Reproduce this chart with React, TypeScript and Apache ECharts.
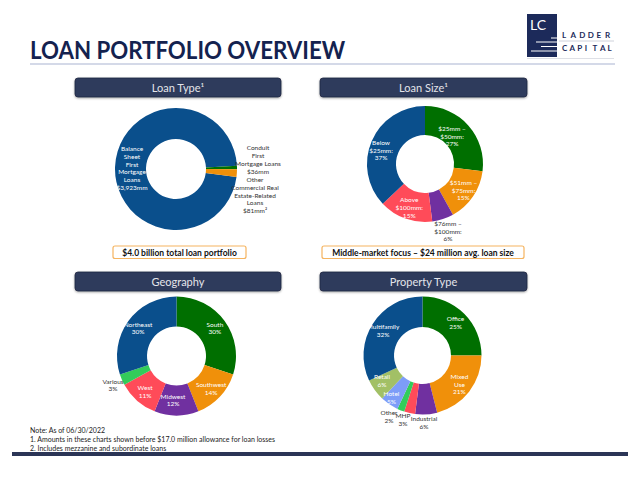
import React, { useEffect, useRef } from "react";
import * as echarts from "echarts";

// ---------- DATA ----------
const LOAN_TYPE_NAMES = [
  "Balance\nSheet\nFirst\nMortgage\nLoans",
  "Conduit\nFirst\nMortgage Loans",
  "Other\nCommercial Real\nEstate-Related\nLoans",
];
const LOAN_TYPE_VALUES = [3923, 36, 81]; // $mm
const LOAN_TYPE_MARKS = ["", "", "²"];

const LOAN_SIZE_NAMES = [
  "$25mm –\n$50mm:",
  "$51mm –\n$75mm:",
  "$76mm –\n$100mm:",
  "Above\n$100mm:",
  "Below\n$25mm:",
];
const LOAN_SIZE_VALUES = [27, 15, 6, 15, 37]; // %

const GEO_NAMES = ["South", "Southwest", "Midwest", "West", "Various", "Northeast"];
const GEO_VALUES = [30, 14, 12, 11, 3, 30]; // %

const PROP_NAMES = ["Office", "Mixed\nUse", "Industrial", "MHP", "Other", "Hotel", "Retail", "Multifamily"];
const PROP_VALUES = [25, 21, 6, 3, 2, 5, 6, 32]; // %

const PANEL_TITLES = ["Loan Type¹", "Loan Size¹", "Geography", "Property Type"];
const CALLOUTS = ["$4.0 billion total loan portfolio", "Middle-market focus – $24 million avg. loan size"];
const NOTES = [
  "Note: As of 06/30/2022",
  "1. Amounts in these charts shown before $17.0 million allowance for loan losses",
  "2. Includes mezzanine and subordinate loans",
];
const LOGO_WORDS = ["LADDER", "CAPITAL"];

// ---------- STYLE ----------
const BLUE = "#0a4f8c";
const GREEN = "#006f00";
const ORANGE = "#f0900a";
const PURPLE = "#7030a0";
const RED = "#ff4b59";
const BRIGHT_GREEN = "#33cc5a";
const LIGHT_BLUE = "#7d9df8";
const LIGHT_GREEN = "#a2c066";
const W = "#ffffff";
const D = "#333333";
const NAVY = "#14224f";
const HEADER = "#2e3a5c";
const FONT = "Lato";

function pieSeries(
  center: number[],
  radius: number[],
  startAngle: number,
  names: string[],
  values: number[],
  colors: string[],
  textColors: string[],
  offsets: Record<number, number[]>,
  fmt: (i: number) => string
) {
  return {
    type: "pie",
    center,
    radius,
    startAngle,
    clockwise: true,
    avoidLabelOverlap: false,
    silent: true,
    emphasis: { disabled: true },
    label: {
      show: true,
      position: "inside",
      fontFamily: FONT,
      fontSize: 6.5,
      lineHeight: 7.8,
      formatter: (p: any) => fmt(p.dataIndex),
    },
    labelLine: { show: false },
    labelLayout: (p: any) => {
      const o = offsets[p.dataIndex];
      if (!o) return {};
      return { x: center[0] + o[0], y: center[1] + o[1], align: "center", verticalAlign: "middle" };
    },
    itemStyle: { borderWidth: 0 },
    data: names.map((n, i) => ({
      name: n,
      value: values[i],
      itemStyle: { color: colors[i] },
      label: { color: textColors[i] },
    })),
  };
}

function headerBox(x: number, y: number, w: number, text: string) {
  return {
    type: "group",
    children: [
      {
        type: "rect",
        shape: { x, y, width: w, height: 19, r: 3 },
        style: {
          fill: HEADER,
          stroke: "#1f2842",
          lineWidth: 0.8,
          shadowBlur: 2,
          shadowOffsetY: 1,
          shadowColor: "rgba(0,0,0,0.35)",
        },
      },
      {
        type: "text",
        x: x + w / 2,
        y: y + 9.8,
        style: {
          text,
          fill: "#e4e5ea",
          font: `11px ${FONT}`,
          align: "center",
          verticalAlign: "middle",
        },
      },
    ],
  };
}

function callout(x: number, y: number, w: number, text: string) {
  return {
    type: "group",
    children: [
      {
        type: "rect",
        shape: { x, y, width: w, height: 12.5, r: 2 },
        style: { fill: "#fff", stroke: "#f5b460", lineWidth: 1.2 },
      },
      {
        type: "text",
        x: x + w / 2,
        y: y + 6.5,
        style: {
          text,
          fill: "#111",
          font: `bold 8.5px ${FONT}`,
          align: "center",
          verticalAlign: "middle",
        },
      },
    ],
  };
}

function spacedWord(word: string, x0: number, y: number, pitch: number) {
  return word.split("").map((ch, i) => ({
    type: "text",
    x: x0 + i * pitch,
    y,
    style: { text: ch, fill: "#1c2a5a", font: `bold 8px ${FONT}`, verticalAlign: "middle" },
  }));
}

export default function App() {
  const ref = useRef<HTMLDivElement>(null);
  useEffect(() => {
    document.body.style.margin = "0";
    if (!ref.current) return;
    const chart = echarts.init(ref.current, null, { renderer: "svg" });

    const loanTypeTotal = LOAN_TYPE_VALUES.reduce((a, b) => a + b, 0);
    const ltStart = 3 + (360 * LOAN_TYPE_VALUES[0]) / loanTypeTotal;

    const logoLines = [
      [551, 38, 557],
      [536, 42, 557],
      [541, 46.5, 557],
      [531, 51, 557],
    ];

    const option: any = {
      animation: false,
      backgroundColor: "#ffffff",
      series: [
        pieSeries(
          [176, 169],
          [30, 61],
          ltStart,
          LOAN_TYPE_NAMES,
          LOAN_TYPE_VALUES,
          [BLUE, GREEN, ORANGE],
          [W, D, D],
          { 0: [-44, -1], 1: [82, -9.5], 2: [79, 26] },
          (i) => `${LOAN_TYPE_NAMES[i]}\n$${LOAN_TYPE_VALUES[i].toLocaleString("en-US")}mm${LOAN_TYPE_MARKS[i]}`
        ),
        pieSeries(
          [425, 164],
          [29, 58],
          90,
          LOAN_SIZE_NAMES,
          LOAN_SIZE_VALUES,
          [GREEN, ORANGE, PURPLE, RED, BLUE],
          [W, W, D, W, W],
          { 0: [27, -28], 2: [23, 67], 4: [-44, -14] },
          (i) => `${LOAN_SIZE_NAMES[i]}\n${LOAN_SIZE_VALUES[i]}%`
        ),
        pieSeries(
          [176.5, 356],
          [29.5, 59.5],
          90,
          GEO_NAMES,
          GEO_VALUES,
          [GREEN, ORANGE, PURPLE, RED, BRIGHT_GREEN, BLUE],
          [W, W, W, W, D, W],
          { 2: [-3.5, 44], 4: [-63.5, 29] },
          (i) => `${GEO_NAMES[i]}\n${GEO_VALUES[i]}%`
        ),
        pieSeries(
          [422.5, 355.5],
          [28.5, 59],
          90,
          PROP_NAMES,
          PROP_VALUES,
          [GREEN, ORANGE, PURPLE, RED, BRIGHT_GREEN, LIGHT_BLUE, LIGHT_GREEN, BLUE],
          [W, W, D, D, D, W, W, W],
          { 2: [1.5, 67], 3: [-19.5, 64], 4: [-33.5, 61], 5: [-31, 42], 6: [-40.5, 25] },
          (i) => `${PROP_NAMES[i]}\n${PROP_VALUES[i]}%`
        ),
      ],
      graphic: [
        {
          type: "text",
          x: 30,
          y: 49,
          scaleX: 0.89,
          style: {
            text: "LOAN PORTFOLIO OVERVIEW",
            fill: NAVY,
            font: `bold 25px ${FONT}`,
            verticalAlign: "middle",
          },
        },
        {
          type: "line",
          shape: { x1: 30, y1: 64, x2: 615, y2: 64 },
          style: { stroke: "#c6cce0", lineWidth: 1.5 },
        },
        // logo
        { type: "rect", shape: { x: 527, y: 14, width: 30, height: 43 }, style: { fill: "#1c2a5a" } },
        {
          type: "text",
          x: 530,
          y: 24,
          style: { text: "LC", fill: "#fff", font: `14px ${FONT}`, verticalAlign: "middle" },
        },
        ...logoLines.map((l) => ({
          type: "line",
          shape: { x1: l[0], y1: l[1], x2: l[2], y2: l[1] },
          style: { stroke: "#fff", lineWidth: 1 },
        })),
        {
          type: "line",
          shape: { x1: 559, y1: 41, x2: 614, y2: 41 },
          style: { stroke: "#c3c7d2", lineWidth: 0.8 },
        },
        {
          type: "line",
          shape: { x1: 527, y1: 58.5, x2: 614, y2: 58.5 },
          style: { stroke: "#d5d8e0", lineWidth: 0.8 },
        },
        ...spacedWord(LOGO_WORDS[0], 562, 35, 8.6),
        ...spacedWord(LOGO_WORDS[1], 562, 48, 7.6),
        headerBox(75, 78, 206, PANEL_TITLES[0]),
        headerBox(320, 78, 207, PANEL_TITLES[1]),
        headerBox(75, 272, 206, PANEL_TITLES[2]),
        headerBox(320, 272, 207, PANEL_TITLES[3]),
        callout(113, 246, 133, CALLOUTS[0]),
        callout(322, 246, 202, CALLOUTS[1]),
        ...NOTES.map((t, i) => ({
          type: "text",
          x: 30,
          y: 430 + i * 9,
          style: { text: t, fill: "#222", font: `7px ${FONT}`, verticalAlign: "middle" },
        })),
        { type: "rect", shape: { x: 12, y: 452, width: 616, height: 4 }, style: { fill: "#2b3556" } },
      ],
    };
    chart.setOption(option);
    return () => chart.dispose();
  }, []);
  return <div ref={ref} style={{ width: 640, height: 479 }} />;
}
